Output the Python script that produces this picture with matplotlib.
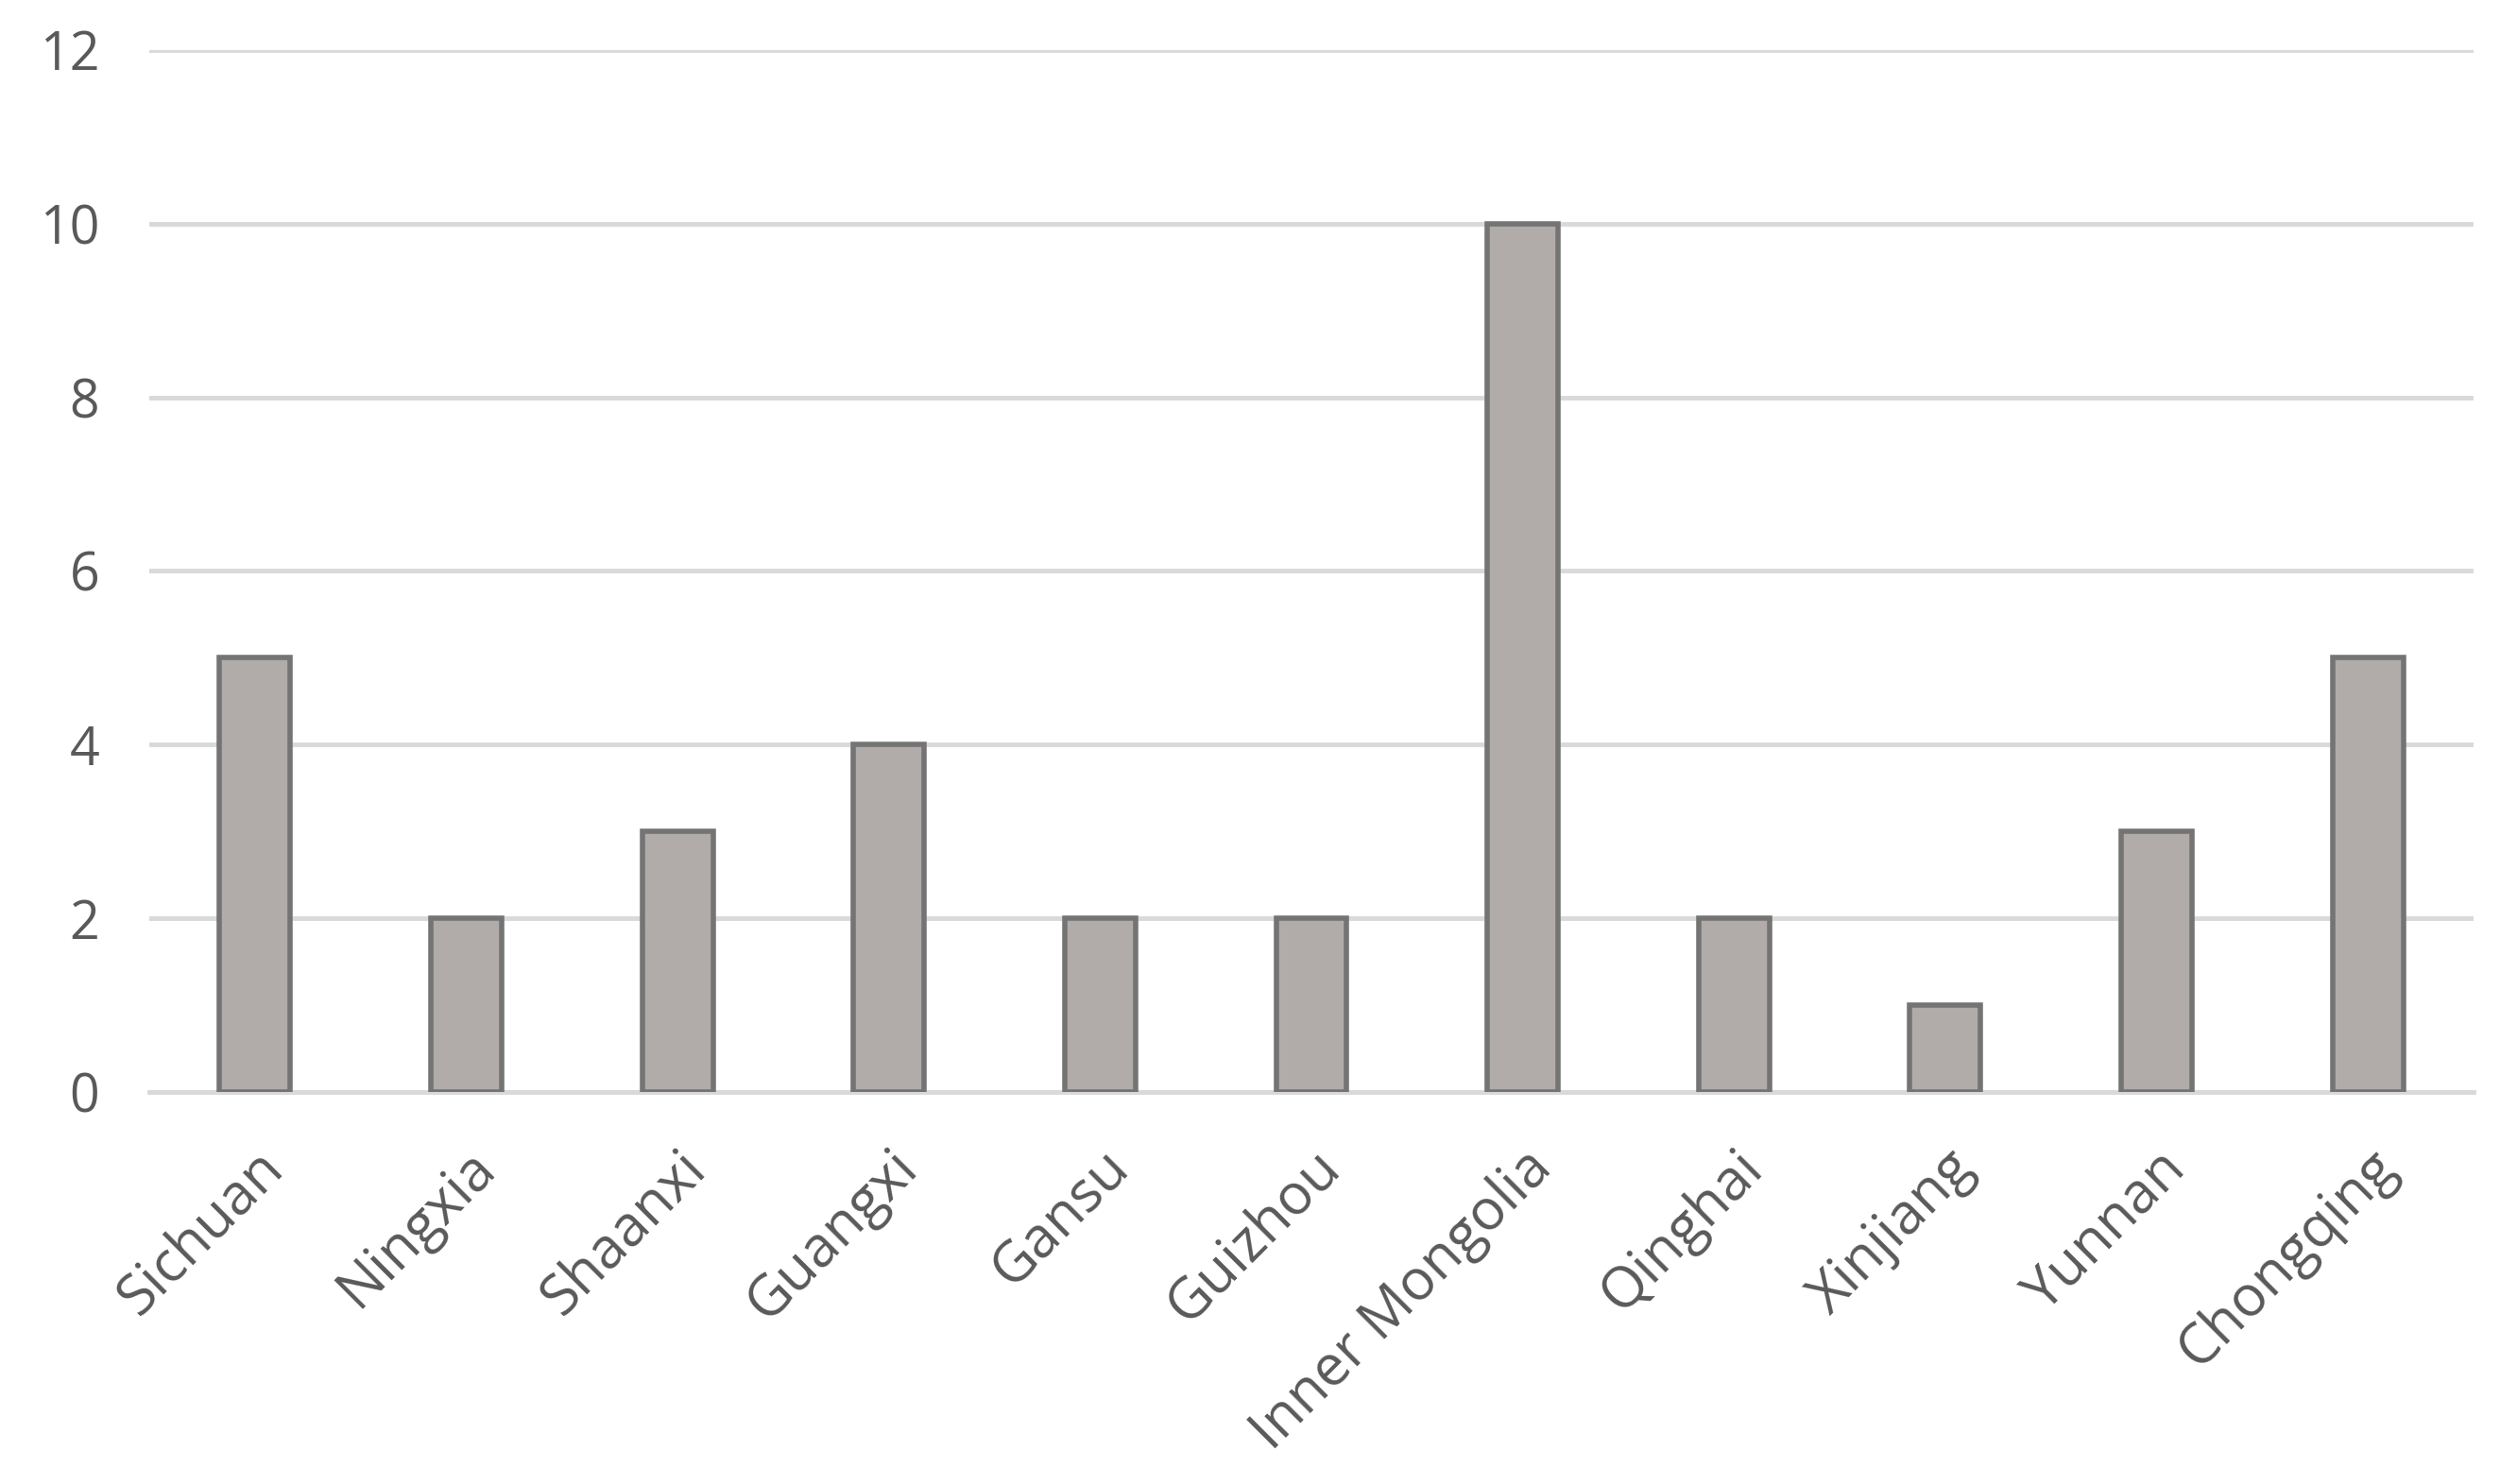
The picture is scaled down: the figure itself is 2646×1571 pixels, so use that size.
import matplotlib.pyplot as plt
import numpy as np

# province counts
provinces = ['Sichuan', 'Ningxia', 'Shaanxi', 'Guangxi', 'Gansu', 'Guizhou',
             'Inner Mongolia', 'Qinghai', 'Xinjiang', 'Yunnan', 'Chongqing']
counts = [5, 2, 3, 4, 2, 2, 10, 2, 1, 3, 5]
y_ticks = [0, 2, 4, 6, 8, 10, 12]

plt.rcParams['font.family'] = ['Open Sans', 'DejaVu Sans']

fig = plt.figure(figsize=(26.46, 15.71), dpi=100)
ax = fig.add_axes([0.0597, 0.2642, 0.9297, 0.7021])

x = np.arange(len(provinces))
ax.bar(x, counts, width=0.335, color='#b1aca9', edgecolor='#747474',
       linewidth=4, zorder=3)

ax.set_xlim(-0.5, len(provinces) - 0.5)
ax.set_ylim(0, 12)
ax.set_yticks(y_ticks)
ax.yaxis.grid(True, color='#d9d9d9', linewidth=3.5, zorder=0)
ax.set_axisbelow(True)

for side in ['top', 'right', 'left']:
    ax.spines[side].set_visible(False)
ax.spines['bottom'].set_color('#d9d9d9')
ax.spines['bottom'].set_linewidth(3.5)

ax.tick_params(axis='both', length=0, colors='#595959')
ax.tick_params(axis='y', labelsize=40, pad=38)
ax.set_xticks(x)
ax.set_xticklabels(provinces, rotation=45, ha='right', va='top',
                   rotation_mode='anchor')
ax.tick_params(axis='x', labelsize=43, pad=36)

fig.savefig('out.png', dpi=100)
